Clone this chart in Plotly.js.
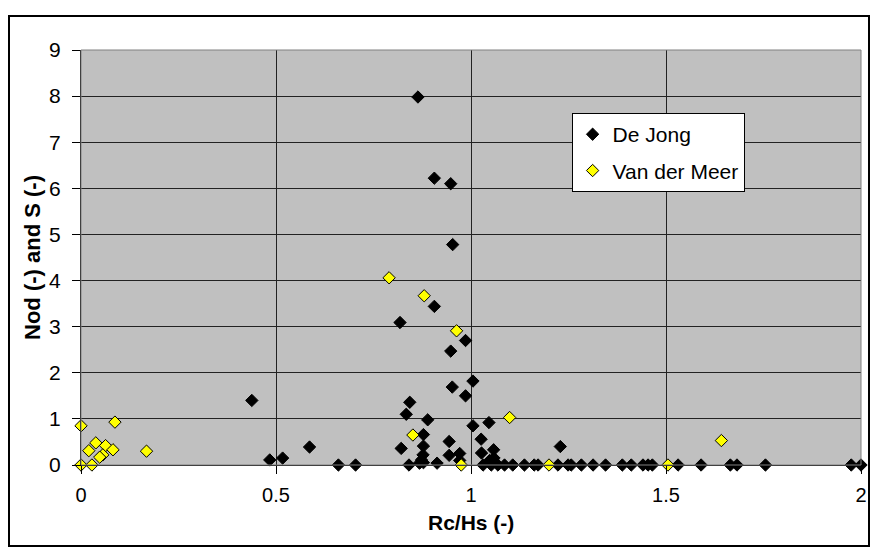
<!DOCTYPE html>
<html>
<head>
<meta charset="utf-8">
<script src="https://cdn.plot.ly/plotly-3.0.1.min.js"></script>
<style>
html,body{margin:0;padding:0;background:#fff;}
#wrap{position:relative;width:876px;height:550px;}
#chart{width:876px;height:550px;}
#frame{position:absolute;left:8px;top:15px;width:858px;height:528px;border:2px solid #000;pointer-events:none;}
</style>
</head>
<body>
<div id="wrap"><div id="chart"></div><div id="frame"></div></div>
<script>
// De Jong data (Rc/Hs, Nod)
const deJongX = [0.864,0.906,0.948,0.953,0.906,0.818,0.986,0.948,1.005,0.952,0.986,0.843,0.438,0.834,0.889,1.046,1.005,0.878,0.821,0.878,0.944,1.026,0.877,0.944,0.971,1.027,1.058,0.873,0.841,0.913,0.868,0.971,0.878,1.031,1.059,1.048,1.052,1.069,1.086,1.107,1.137,1.162,1.172,1.223,1.229,1.249,1.257,1.283,1.313,1.345,1.388,1.411,1.441,1.454,1.465,1.531,1.590,1.665,1.682,1.755,1.975,2.0,0.484,0.517,0.586,0.660,0.704];
const deJongY = [7.98,6.22,6.10,4.78,3.44,3.09,2.70,2.47,1.82,1.69,1.50,1.36,1.40,1.10,0.98,0.92,0.85,0.66,0.36,0.41,0.51,0.56,0.22,0.21,0.25,0.26,0.33,0.11,0,0.04,0.04,0.10,0.05,0,0.15,0.10,0,0,0,0,0,0,0,0,0.40,0,0,0,0,0,0,0,0,0,0,0,0,0,0,0,0,0,0.11,0.15,0.39,0,0];
// Van der Meer data (Rc/Hs, S)
const vdMeerX = [0,0.087,0.038,0.020,0.063,0.082,0.056,0.048,0.168,0,0.028,0.790,0.880,0.963,0.851,0.975,1.099,1.2,1.505,1.642];
const vdMeerY = [0.85,0.93,0.48,0.31,0.42,0.33,0.22,0.17,0.30,0,0,4.06,3.67,2.91,0.65,0,1.03,0,0,0.53];
const xTicks = [0,0.5,1,1.5,2];
const xTickText = ['0','0.5','1','1.5','2'];
const yTicks = [0,1,2,3,4,5,6,7,8,9];
const xTitle = 'Rc/Hs (-)';
const yTitle = 'Nod (-) and S (-)';

const font = 'Liberation Sans, Arial, sans-serif';
const traces = [
  {x: deJongX, y: deJongY, mode: 'markers', type: 'scatter', name: 'De Jong', cliponaxis: false, legendgroup: 'a',
   marker: {symbol: 'diamond', size: 9.5, color: '#000000', line: {color: '#000000', width: 1}}},
  {x: vdMeerX, y: vdMeerY, mode: 'markers', type: 'scatter', name: 'Van der Meer', cliponaxis: false, legendgroup: 'b',
   marker: {symbol: 'diamond', size: 9.5, color: '#FFFF00', line: {color: '#000000', width: 1}}}
];
const layout = {
  width: 876, height: 550,
  margin: {l: 81, r: 15, t: 50, b: 85},
  paper_bgcolor: '#ffffff', plot_bgcolor: '#C0C0C0',
  font: {family: font, size: 21, color: '#000'},
  showlegend: true,
  legend: {x: 0.629, y: 0.848, xanchor: 'left', yanchor: 'top', bgcolor: '#ffffff',
           bordercolor: '#000', borderwidth: 1, font: {family: font, size: 21, color: '#000'},
           traceorder: 'grouped', tracegroupgap: 6, itemwidth: 30},
  xaxis: {range: [0, 2], tickvals: xTicks, ticktext: xTickText, showgrid: true, gridcolor: '#222', gridwidth: 1,
          zeroline: false, showline: true, linecolor: '#000', linewidth: 1, mirror: false,
          ticks: 'outside', ticklen: 8, tickcolor: '#000', tickfont: {family: font, size: 20},
          ticklabelstandoff: 4},
  yaxis: {range: [0, 9], tickvals: yTicks, showgrid: true, gridcolor: '#222', gridwidth: 1,
          zeroline: false, showline: true, linecolor: '#000', linewidth: 1, mirror: false,
          ticks: 'outside', ticklen: 8, tickcolor: '#000', tickfont: {family: font, size: 21},
          ticklabelstandoff: 7,
          title: {text: '<b>' + yTitle + '</b>', font: {family: font, size: 22}, standoff: 2}},
  annotations: [
    {text: '<b>' + xTitle + '</b>', xref: 'paper', yref: 'paper', x: 0.5, y: -0.138,
     xanchor: 'center', yanchor: 'middle', showarrow: false, font: {family: font, size: 21, color: '#000'}}
  ],
  shapes: [
    {type: 'rect', xref: 'paper', yref: 'paper', x0: 0, x1: 1, y0: 0, y1: 1,
     line: {color: '#808080', width: 1}, fillcolor: 'rgba(0,0,0,0)', layer: 'above'}
  ]
};
Plotly.newPlot('chart', traces, layout, {displayModeBar: false, staticPlot: true});
</script>
</body>
</html>
